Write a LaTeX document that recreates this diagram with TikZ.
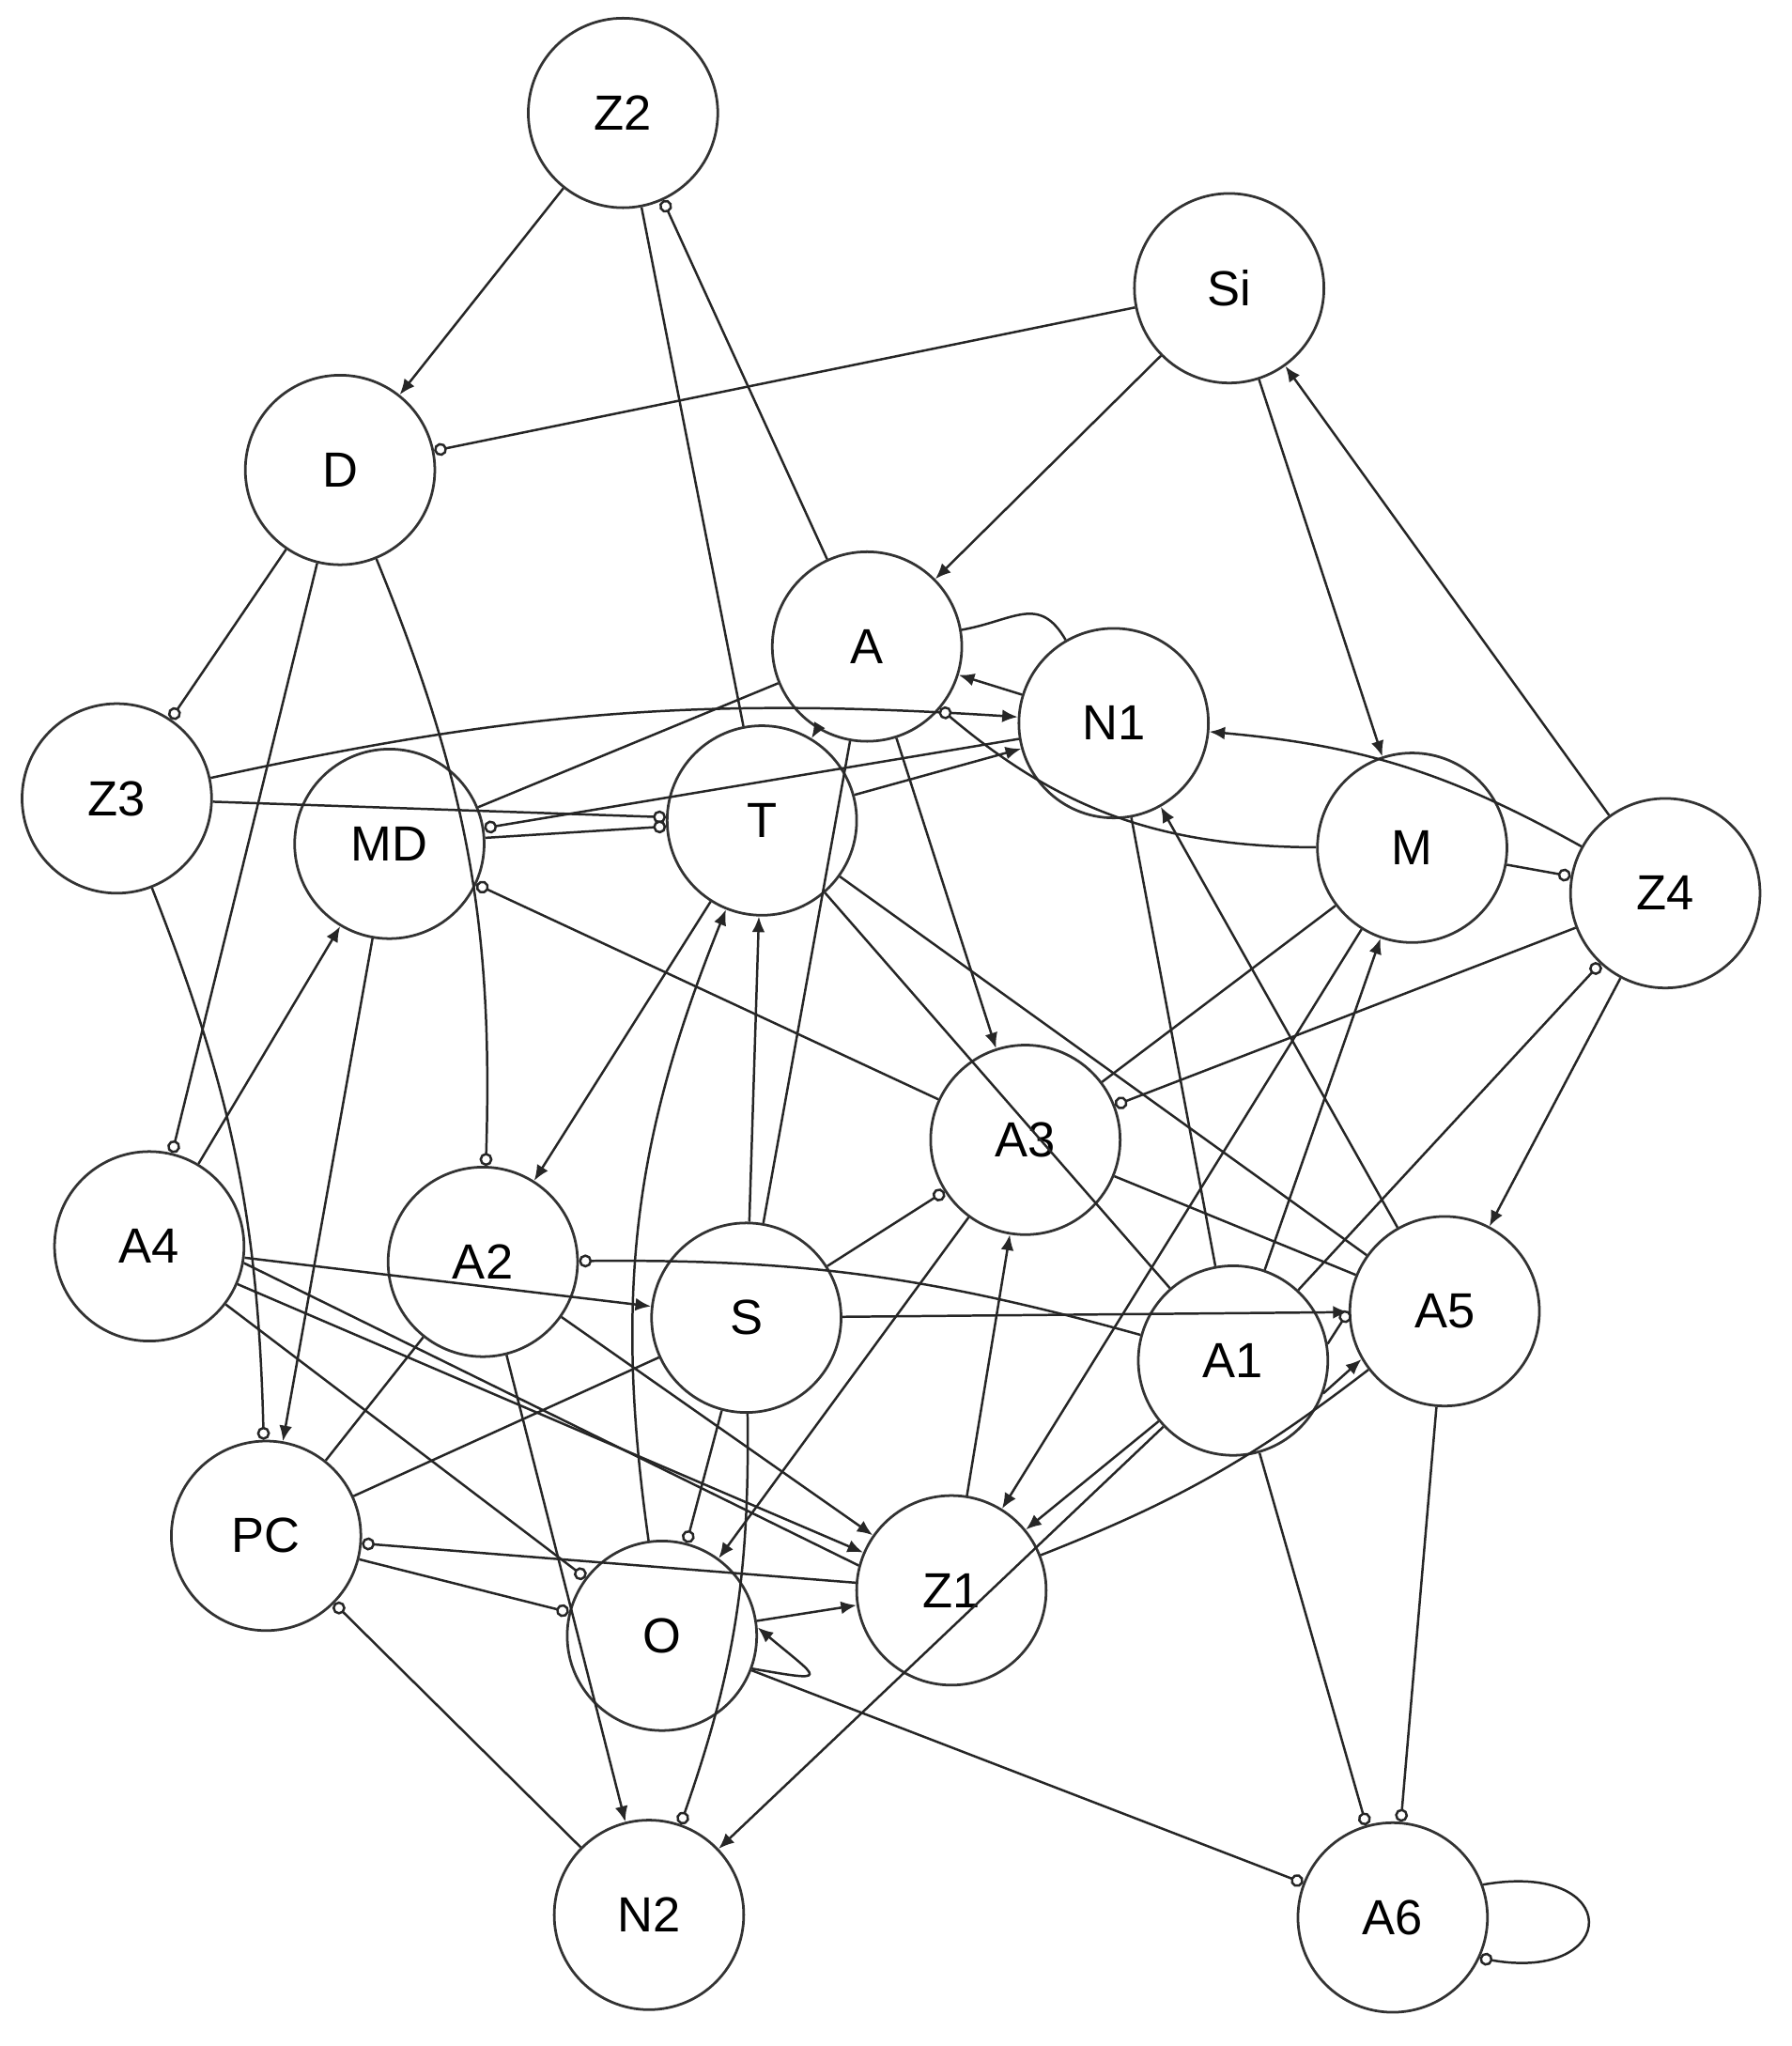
\documentclass[tikz,border=0pt]{standalone}
\usepackage{fontspec}
\setmainfont{Liberation Sans}
\usetikzlibrary{arrows.meta}
\tikzset{
  nd/.style={circle,draw=black!80,line width=1pt,minimum size=73pt,inner sep=0pt,font=\fontsize{19}{22}\selectfont},
  ed/.style={line width=0.9pt,draw=black!85},
  ar/.style={-{Latex[length=6pt,width=5pt]}},
  oc/.style={-{Circle[open,length=5pt,width=5pt,fill=white]}},
  co/.style={{Circle[open,length=5pt,width=5pt,fill=white]}-},
}
\begin{document}
\begin{tikzpicture}[x=0.5pt,y=-0.5pt]
\useasboundingbox (0,0) rectangle (1380,1576);
\node[nd] (Z2) at (480,87) {Z2};
\node[nd] (Si) at (947,222) {Si};
\node[nd] (D) at (262,362) {D};
\node[nd] (A) at (668,498) {A};
\node[nd] (N1) at (858,557) {N1};
\node[nd] (Z3) at (90,615) {Z3};
\node[nd] (MD) at (300,650) {MD};
\node[nd] (T) at (587,632) {T};
\node[nd] (M) at (1088,653) {M};
\node[nd] (Z4) at (1283,688) {Z4};
\node[nd] (A3) at (790,878) {A3};
\node[nd] (A4) at (115,960) {A4};
\node[nd] (A2) at (372,972) {A2};
\node[nd] (S) at (575,1015) {S};
\node[nd] (A5) at (1113,1010) {A5};
\node[nd] (A1) at (950,1048) {A1};
\node[nd] (PC) at (205,1183) {PC};
\node[nd] (O) at (510,1260) {O};
\node[nd] (Z1) at (733,1225) {Z1};
\node[nd] (N2) at (500,1475) {N2};
\node[nd] (A6) at (1073,1477) {A6};

\begin{scope}[every path/.style={ed}]
\draw[ar] (Z2) -- (D);
\draw[co] (Z2) -- (A);
\draw (Z2) -- (T);
\draw[oc] (Si) -- (D);
\draw[ar] (Si) -- (A);
\draw[ar] (Si) -- (M);
\draw[ar] (Z4) -- (Si);
\draw[oc] (D) -- (Z3);
\draw[oc] (D) -- (A4);
\draw[oc] (D) to[bend left=12] (A2);
\draw (A) to[out=10,in=120,looseness=1.3] (N1);
\draw[ar] (N1) -- (A);
\draw[co,-{Latex[length=6pt,width=5pt]}] (Z3) to[bend left=8] (N1);
\draw[oc] (Z3) -- (T);
\draw (MD) -- (A);
\draw[oc] (N1) -- (MD);
\draw[oc] (MD) -- (T);
\draw[co] (MD) -- (A3);
\draw[ar] (MD) -- (PC);
\draw[ar] (A4) -- (MD);
\draw[oc] (Z3) to[bend left=10] (PC);
\draw[ar] (T) -- (A2);
\draw[ar] (S) -- (T);
\draw (S) -- (A);
\draw[ar] (O) to[bend left=15] (T);
\draw[ar] (A) -- (T);
\draw[ar] (T) -- (N1);
\draw (T) -- (A5);
\draw (T) -- (A1);
\draw[ar] (A) -- (A3);
\draw[oc] (M) to[bend left=20] (A);
\draw[ar] (Z4) to[bend right=12] (N1);
\draw[oc] (M) -- (Z4);
\draw[oc] (Z4) -- (A3);
\draw[ar] (Z4) -- (A5);
\draw[co] (Z4) -- (A1);
\draw (M) -- (A3);
\draw[ar] (A1) -- (M);
\draw[ar] (M) -- (Z1);
\draw (N1) -- (A1);
\draw[ar] (A5) -- (N1);
\draw[oc] (S) -- (A3);
\draw[co] (A2) to[bend left=8] (A1);
\draw[ar] (S) -- (A5);
\draw (A3) -- (A5);
\draw[ar] (Z1) -- (A3);
\draw[ar] (A3) -- (O);
\draw[ar] (A1.-20) -- (A5.-150);
\draw[oc] (A1.10) -- (A5.180);
\draw[ar] (A1) -- (Z1);
\draw (A5) to[bend left=8] (Z1);
\draw[ar] (A1) -- (N2);
\draw[oc] (A1) -- (A6);
\draw[oc] (A5) -- (A6);
\draw[oc] (A6.20) to[out=10,in=-10,looseness=5] (A6.-25);
\draw[oc] (O) -- (A6);
\draw[ar] (O.-20) to[out=-10,in=-40,looseness=5] (O.5);
\draw[ar] (O) -- (Z1);
\draw[co] (PC) -- (Z1);
\draw[oc] (PC) -- (O);
\draw[co] (PC) -- (N2);
\draw[ar] (A4) -- (S);
\draw[ar] (A4) -- (Z1);
\draw (A4.-10) -- (Z1.165);
\draw[oc] (A4) -- (O);
\draw (PC) -- (A2);
\draw (PC) -- (S);
\draw[ar] (A2) -- (N2);
\draw[ar] (A2) -- (Z1);
\draw[oc] (S) -- (O);
\draw[oc] (S) to[bend left=10] (N2);
\end{scope}
\end{tikzpicture}
\end{document}
